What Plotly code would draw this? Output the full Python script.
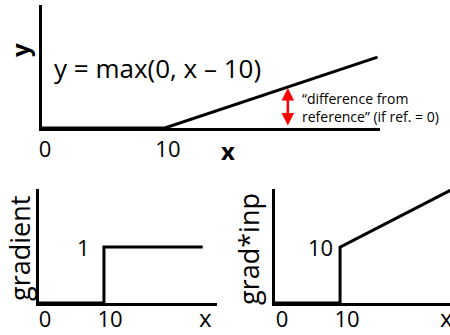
import plotly.graph_objects as go

# Data
relu_x = [0, 10, 27.3]
relu_y = [0, 0, 17.3]
grad_x = [0, 10, 10, 25.2]
grad_y = [0, 0, 1, 1]
gi_x = [0, 10, 10, 27.5]
gi_y = [0, 0, 10, 20.5]
tick_vals = [0, 10]
tick_text = ["0", "10"]
arrow_x = 20
arrow_y = [0.25, 9.75]

FONT = "Open Sans"
fig = go.Figure()
line = dict(color="black", width=3)
fig.add_trace(go.Scatter(x=relu_x, y=relu_y, mode="lines", line=line, xaxis="x", yaxis="y", cliponaxis=False))
fig.add_trace(go.Scatter(x=grad_x, y=grad_y, mode="lines", line=line, xaxis="x2", yaxis="y2", cliponaxis=False))
fig.add_trace(go.Scatter(x=gi_x, y=gi_y, mode="lines", line=line, xaxis="x3", yaxis="y3"))

def xax(domain, rng, shift, standoff):
    return dict(domain=domain, range=rng, showline=True, linecolor="black", linewidth=3,
                showgrid=False, zeroline=False, tickvals=tick_vals, ticktext=tick_text,
                ticks="", ticklabelstandoff=standoff,
                tickfont=dict(family=FONT, size=22, color="black"), ticklabelshift=shift, fixedrange=True)

def yax(domain, rng, anchor):
    return dict(domain=domain, range=rng, showline=True, linecolor="black", linewidth=3,
                showgrid=False, zeroline=False, showticklabels=False, anchor=anchor, fixedrange=True)

fig.update_layout(
    width=450, height=335, autosize=False, margin=dict(l=0, r=0, t=0, b=0, autoexpand=False),
    paper_bgcolor="white", plot_bgcolor="white", showlegend=False,
    xaxis=dict(**xax([42/450, 380/450], [0, 27.5], 3, 0), anchor="y"),
    yaxis=yax([(335-128)/335, (335-5)/335], [0, 30], "x"),
    xaxis2=dict(**xax([39/450, 217/450], [0, 27.4], 6, -5), anchor="y2"),
    yaxis2=yax([(335-303)/335, (335-189)/335], [0, 2.04], "x2"),
    xaxis3=dict(**xax([275/450, 1.0], [0, 26.9], 7, -5), anchor="y3"),
    yaxis3=yax([(335-303)/335, (335-189)/335], [0, 20.4], "x3"),
)

ann = []
ann.append(dict(x=0.8, y=14.6, xref="x", yref="y", text="y = max(0, x – 10)", showarrow=False,
                xanchor="left", yanchor="middle", font=dict(family=FONT, size=26, color="black")))
ann.append(dict(x=arrow_x, y=arrow_y[1], ax=arrow_x, ay=arrow_y[0], xref="x", yref="y", axref="x", ayref="y",
                text="", showarrow=True, arrowside="end+start", arrowhead=2, arrowsize=1,
                arrowwidth=2.5, arrowcolor="red"))
ann.append(dict(x=21.0, y=5.1, xref="x", yref="y", text="“difference from<br>reference” (if ref. = 0)",
                showarrow=False, xanchor="left", yanchor="middle", align="left",
                font=dict(family=FONT, size=14, color="black")))
# axis titles
ann.append(dict(x=228/450, y=(335-150)/335, xref="paper", yref="paper", text="<b>x</b>", showarrow=False,
                xanchor="center", yanchor="middle", font=dict(family=FONT, size=24, color="black")))
ann.append(dict(x=20/450, y=(335-50)/335, xref="paper", yref="paper", text="<b>y</b>", showarrow=False,
                textangle=-90, xanchor="center", yanchor="middle", font=dict(family=FONT, size=24, color="black")))
ann.append(dict(x=205/450, y=(335-317)/335, xref="paper", yref="paper", text="x", showarrow=False,
                xanchor="center", yanchor="middle", font=dict(family=FONT, size=24, color="black")))
ann.append(dict(x=446/450, y=(335-317)/335, xref="paper", yref="paper", text="x", showarrow=False,
                xanchor="center", yanchor="middle", font=dict(family=FONT, size=24, color="black")))
ann.append(dict(x=19/450, y=(335-249)/335, xref="paper", yref="paper", text="gradient", showarrow=False,
                textangle=-90, xanchor="center", yanchor="middle", font=dict(family=FONT, size=27, color="black")))
ann.append(dict(x=248/450, y=(335-249)/335, xref="paper", yref="paper", text="grad*inp", showarrow=False,
                textangle=-90, xanchor="center", yanchor="middle", font=dict(family=FONT, size=27, color="black")))
# value labels at the step
ann.append(dict(x=8.2, y=1, xref="x2", yref="y2", text="1", showarrow=False,
                xanchor="right", yanchor="middle", font=dict(family=FONT, size=22, color="black")))
ann.append(dict(x=9.2, y=10, xref="x3", yref="y3", text="10", showarrow=False,
                xanchor="right", yanchor="middle", font=dict(family=FONT, size=22, color="black")))
fig.update_layout(annotations=ann)

fig.write_html("out.html", config={"displayModeBar": False, "responsive": False},
               post_script="document.body.style.margin='0';")
